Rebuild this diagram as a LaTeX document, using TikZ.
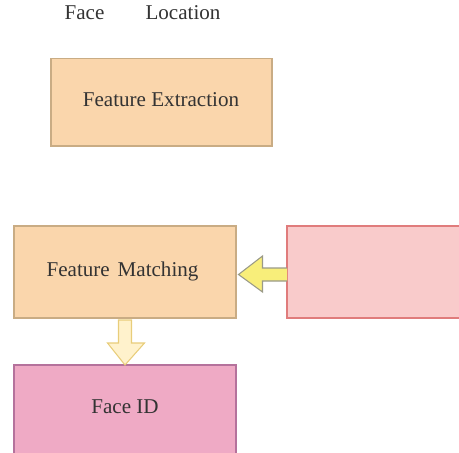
\documentclass[tikz,border=0pt]{standalone}
\usepackage{fontspec}
\setmainfont{Liberation Serif}
\begin{document}
\begin{tikzpicture}[x=0.75pt,y=-0.75pt,
  lbl/.style={text=black!80, font=\fontsize{15.8}{18}\selectfont, inner sep=0pt},
]
\definecolor{ofill}{HTML}{FAD6AC}
\definecolor{oline}{HTML}{C9AC84}
\definecolor{pfill}{HTML}{F9CBCB}
\definecolor{pline}{HTML}{E07C7C}
\definecolor{ifill}{HTML}{EFAAC5}
\definecolor{iline}{HTML}{B5729C}
\definecolor{yfill}{HTML}{F8EE7A}
\definecolor{yline}{HTML}{9A9A88}
\definecolor{cfill}{HTML}{FFF2CC}
\definecolor{cline}{HTML}{E8CD7A}
\tikzset{
  obox/.style={draw=oline, fill=ofill, line width=0.9pt},
  pbox/.style={draw=pline, fill=pfill, line width=0.9pt},
  ibox/.style={draw=iline, fill=ifill, line width=0.9pt},
}
\useasboundingbox (0,0) rectangle (459,452);
\clip (0,0) rectangle (459,452);
% labels
\node[lbl] (face) at (84.5,13) {Face};
\node[lbl] (loc) at (183,13) {Location};
% boxes
\draw[obox] (51,58.5) rectangle (272,146);
\node[lbl] (fe) at (161,100) {Feature Extraction};
\draw[obox] (14,226) rectangle (236,318);
\node[lbl] (fm) at (122.5,271) {Feature\hspace{2pt} Matching};
\draw[pbox] (287,226) rectangle (470,318);
\draw[ibox] (14,365) rectangle (236,455);
\node[lbl] (fid) at (125,407) {Face ID};
% left arrow
\draw[draw=yline, fill=yfill, line width=0.8pt, line join=miter]
  (287,268) -- (262.5,268) -- (262.5,256) -- (238.5,274.5) -- (262.5,292) -- (262.5,281) -- (287,281);
% down arrow
\draw[draw=cline, fill=cfill, line width=0.8pt]
  (118.5,320) -- (131.5,320) -- (131.5,343) -- (144.5,343) -- (125,365) -- (107.5,343) -- (118.5,343) -- cycle;
\end{tikzpicture}
\end{document}
